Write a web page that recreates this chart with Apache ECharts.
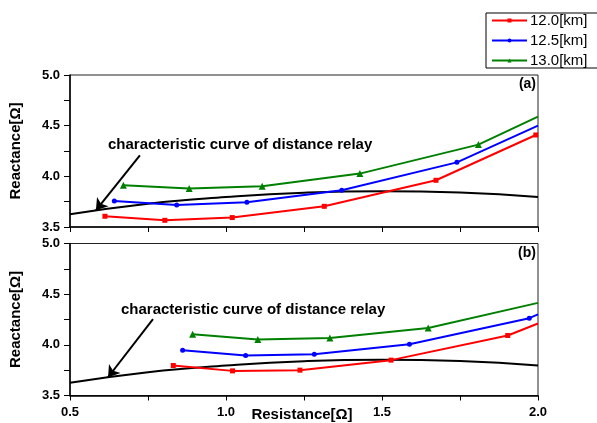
<!DOCTYPE html>
<html><head><meta charset="utf-8">
<script src="https://cdn.jsdelivr.net/npm/echarts@6/dist/echarts.min.js"></script>
<style>html,body{margin:0;padding:0;background:#fff}#c{width:597px;height:423px}</style>
</head><body><div id="c"></div>
<script>
const seriesNames = ['12.0[km]', '12.5[km]', '13.0[km]'];
const xTicks = ['0.5', '1.0', '1.5', '2.0'];
const yTicks = ['3.5', '4.0', '4.5', '5.0'];
const annotation = 'characteristic curve of distance relay';

// panel (a)
const a12x = [0.612, 0.804, 1.020, 1.315, 1.673, 1.993];
const a12y = [3.606, 3.566, 3.593, 3.704, 3.961, 4.408];
const a125x = [0.642, 0.842, 1.067, 1.371, 1.740, 2.0];
const a125y = [3.757, 3.717, 3.744, 3.862, 4.138, 4.50];
const a13x = [0.671, 0.882, 1.116, 1.429, 1.809, 2.0];
const a13y = [3.912, 3.879, 3.901, 4.027, 4.313, 4.59];
// panel (b)
const b12x = [0.831, 1.021, 1.237, 1.529, 1.903, 2.0];
const b12y = [3.796, 3.743, 3.750, 3.849, 4.092, 4.21];
const b125x = [0.861, 1.063, 1.283, 1.588, 1.972, 2.0];
const b125y = [3.947, 3.894, 3.907, 4.006, 4.263, 4.30];
const b13x = [0.893, 1.102, 1.333, 1.648, 2.0];
const b13y = [4.105, 4.053, 4.068, 4.167, 4.414];
// characteristic curve of distance relay
const relayX = [0.5, 0.75, 1.0, 1.25, 1.5, 1.75, 2.0];
const relayY = [3.625, 3.73, 3.795, 3.838, 3.853, 3.84, 3.795];
// arrow (tail, tip) in data coords
const arrowA = [[0.724, 4.208], [0.583, 3.665]];
const arrowB = [[0.766, 4.253], [0.622, 3.68]];

const colors = ['#ff0000', '#0000ff', '#008000'];
const symbols = ['rect', 'circle', 'triangle'];
const symSizes = [5, 5, 7];
const FONT = 'Liberation Sans, Arial, sans-serif';

function pts(xs, ys, size) {
  return xs.map((x, i) => ({ value: [x, ys[i]], symbolSize: x >= 2.0 ? 0 : size }));
}
function tickFmt(list) {
  return v => { const s = v.toFixed(1); return (list.indexOf(s) >= 0 && Math.abs(v * 2 - Math.round(v * 2)) < 1e-6) ? s : ''; };
}
const chart = echarts.init(document.getElementById('c'), null, { renderer: 'canvas' });

const grids = [
  { left: 70, top: 75, width: 468, height: 152, show: true, borderColor: '#222', borderWidth: 1 },
  { left: 70, top: 243.5, width: 468, height: 152, show: true, borderColor: '#222', borderWidth: 1 }
];
function xAxis(gi, showLabels) {
  return {
    type: 'value', gridIndex: gi, min: 0.5, max: 2.0, interval: 0.25,
    axisLine: { show: true, onZero: false, lineStyle: { color: '#000', width: 1.5 } },
    axisTick: { show: true, inside: false, length: 5, lineStyle: { color: '#000' } },
    splitLine: { show: false },
    axisLabel: { show: showLabels, formatter: tickFmt(xTicks), fontFamily: FONT, fontWeight: 'bold', fontSize: 13, color: '#000', margin: 10 }
  };
}
function yAxis(gi) {
  return {
    type: 'value', gridIndex: gi, min: 3.5, max: 5.0, interval: 0.25,
    axisLine: { show: true, onZero: false, lineStyle: { color: '#000', width: 1.5 } },
    axisTick: { show: true, inside: false, length: 6, lineStyle: { color: '#000' } },
    splitLine: { show: false },
    axisLabel: { formatter: tickFmt(yTicks), fontFamily: FONT, fontWeight: 'bold', fontSize: 13, color: '#000', margin: 10 },
    name: 'Reactance[Ω]', nameLocation: 'middle', nameRotate: 90, nameGap: 47,
    nameTextStyle: { fontFamily: FONT, fontWeight: 'bold', fontSize: 15, color: '#000' }
  };
}
function dataSeries(gi, name, xs, ys, k) {
  return {
    type: 'line', name: name, xAxisIndex: gi, yAxisIndex: gi,
    data: pts(xs, ys, symSizes[k]), symbol: symbols[k], showAllSymbol: true,
    lineStyle: { color: colors[k], width: 2 }, itemStyle: { color: colors[k] },
    z: 3, animation: false
  };
}
function relaySeries(gi, arrow) {
  return {
    type: 'line', name: 'relay', xAxisIndex: gi, yAxisIndex: gi,
    data: relayX.map((x, i) => [x, relayY[i]]), smooth: true, symbol: 'none',
    lineStyle: { color: '#000', width: 2 }, z: 2, animation: false,
    markLine: {
      silent: true, animation: false, symbol: ['none', 'arrow'], symbolSize: 11,
      lineStyle: { color: '#000', width: 2, type: 'solid' }, itemStyle: { color: '#000' },
      label: { show: false },
      data: [[{ coord: arrow[0] }, { coord: arrow[1] }]]
    }
  };
}
const series = [
  dataSeries(0, seriesNames[0], a12x, a12y, 0),
  dataSeries(0, seriesNames[1], a125x, a125y, 1),
  dataSeries(0, seriesNames[2], a13x, a13y, 2),
  relaySeries(0, arrowA),
  dataSeries(1, seriesNames[0], b12x, b12y, 0),
  dataSeries(1, seriesNames[1], b125x, b125y, 1),
  dataSeries(1, seriesNames[2], b13x, b13y, 2),
  relaySeries(1, arrowB)
];
const txt = (x, y, t, size, anchor) => ({
  type: 'text', x: x, y: y, style: { text: t, fill: '#000', font: 'bold ' + size + 'px ' + FONT, textAlign: anchor || 'left', textVerticalAlign: 'middle' }
});
chart.setOption({
  animation: false,
  backgroundColor: '#fff',
  grid: grids,
  xAxis: [xAxis(0, false), xAxis(1, true)],
  yAxis: [yAxis(0), yAxis(1)],
  legend: {
    data: seriesNames, orient: 'vertical', left: 486, top: 13,
    itemWidth: 35, itemHeight: 5, itemGap: 5, padding: [0, 10, 0, 5],
    borderColor: '#000', borderWidth: 1, backgroundColor: '#fff',
    textStyle: { fontFamily: FONT, fontSize: 15, color: '#000', lineHeight: 15, padding: [0, 0, 0, -2] }
  },
  series: series,
  graphic: [
    txt(108, 145, annotation, 15),
    txt(121, 310, annotation, 15),
    txt(536, 84, '(a)', 14, 'right'),
    txt(536, 253, '(b)', 14, 'right'),
    txt(302, 415, 'Resistance[Ω]', 15, 'center')
  ]
});
</script></body></html>
